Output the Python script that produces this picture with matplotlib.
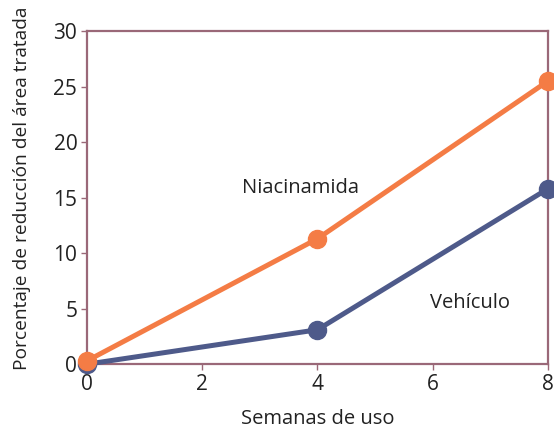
import matplotlib
matplotlib.use("Agg")
import matplotlib.pyplot as plt

plt.rcParams['font.family'] = ['Open Sans', 'DejaVu Sans']

semanas = [0, 4, 8]
niacinamida = [0.3, 11.3, 25.5]
vehiculo = [0.0, 3.1, 15.8]

naranja = '#f47c45'
azul = '#4e5a8a'
marco = '#9a6878'

fig = plt.figure(figsize=(5.54, 4.32), dpi=100)
ax = fig.add_axes([0.157, 0.157, 0.832, 0.771])

ax.plot(semanas, vehiculo, color=azul, lw=3.6, marker='o', ms=13, clip_on=False, zorder=3)
ax.plot(semanas, niacinamida, color=naranja, lw=3.6, marker='o', ms=13, clip_on=False, zorder=4)

ax.text(3.7, 15.9, 'Niacinamida', fontsize=14.5, ha='center', va='center', color='#222222')
ax.text(6.65, 5.5, 'Vehículo', fontsize=14.5, ha='center', va='center', color='#222222')

ax.set_xlim(0, 8)
ax.set_ylim(0, 30)
ax.set_xticks([0, 2, 4, 6, 8])
ax.set_yticks([0, 5, 10, 15, 20, 25, 30])
for s in ax.spines.values():
    s.set_color(marco)
    s.set_linewidth(1.6)
ax.tick_params(colors=marco, labelcolor='#222222', labelsize=15, length=4, width=1, pad=3)

ax.set_xlabel('Semanas de uso', fontsize=14.5, color='#222222', labelpad=10)
ax.set_ylabel('Porcentaje de reducción del área tratada', fontsize=13.8, color='#222222')
ax.yaxis.set_label_coords(-0.122, 0.528)

fig.savefig('out.png', dpi=100)
